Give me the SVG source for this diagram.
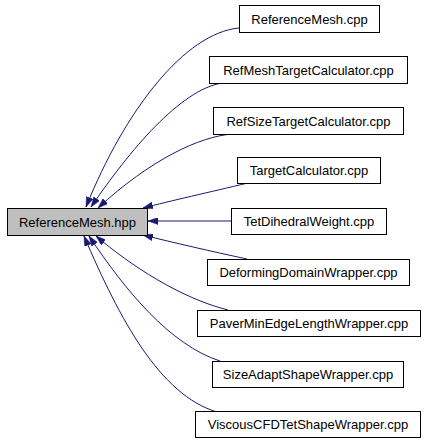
<svg xmlns="http://www.w3.org/2000/svg" width="427" height="443" viewBox="0 0 427 443">
<style>
.n rect{fill:#ffffff;stroke:#000000;stroke-width:1}
.n text{font-family:"Liberation Sans",Arial,sans-serif;font-size:13px;fill:#000000;text-anchor:middle}
#hpp rect{fill:#bfbfbf}
.e path{fill:none;stroke:#191970;stroke-width:1;marker-end:url(#ah)}
</style>
<defs>
<marker id="ah" markerUnits="userSpaceOnUse" viewBox="0 0 10 7" markerWidth="10" markerHeight="7" refX="10" refY="3.5" orient="auto">
<path d="M0,0 L10,3.5 L0,7 z" fill="#191970" stroke="#191970" stroke-width="0.5"/>
</marker>
</defs>
<rect width="427" height="443" fill="#ffffff"/>
<g id="edges" class="e">
<path d="M239,28 C185,33 125,110 86,207"/>
<path d="M222,83 C180,90 130,150 91,207"/>
<path d="M233,134 C200,136 150,160 98,208"/>
<path d="M248,183 C210,192 170,201 143,208"/>
<path d="M231,221 L148,221"/>
<path d="M247,259 C210,251 175,243 143,235"/>
<path d="M228,310 C180,298 130,265 96,236"/>
<path d="M220,361 C170,345 125,290 89,236"/>
<path d="M217,412 C160,395 120,320 84,236"/>
</g>
<g id="hpp" class="n"><rect x="7.5" y="208.5" width="140" height="27"/><text x="77.5" y="226.5">ReferenceMesh.hpp</text></g>
<g id="n1" class="n"><rect x="239.5" y="5.5" width="140" height="27"/><text x="309.5" y="23.5">ReferenceMesh.cpp</text></g>
<g id="n2" class="n"><rect x="209.5" y="56.5" width="198" height="27"/><text x="308.5" y="74.5">RefMeshTargetCalculator.cpp</text></g>
<g id="n3" class="n"><rect x="213.5" y="107.5" width="190" height="27"/><text x="308.5" y="125.5">RefSizeTargetCalculator.cpp</text></g>
<g id="n4" class="n"><rect x="237.5" y="157.5" width="143" height="26"/><text x="309" y="175">TargetCalculator.cpp</text></g>
<g id="n5" class="n"><rect x="231.5" y="208.5" width="155" height="26"/><text x="309" y="226">TetDihedralWeight.cpp</text></g>
<g id="n6" class="n"><rect x="207.5" y="259.5" width="202" height="26"/><text x="308.5" y="277">DeformingDomainWrapper.cpp</text></g>
<g id="n7" class="n"><rect x="197.5" y="310.5" width="223" height="26"/><text x="309" y="328">PaverMinEdgeLengthWrapper.cpp</text></g>
<g id="n8" class="n"><rect x="212.5" y="361.5" width="191" height="26"/><text x="308" y="379">SizeAdaptShapeWrapper.cpp</text></g>
<g id="n9" class="n"><rect x="195.5" y="411.5" width="225" height="26"/><text x="308" y="429">ViscousCFDTetShapeWrapper.cpp</text></g>
</svg>
